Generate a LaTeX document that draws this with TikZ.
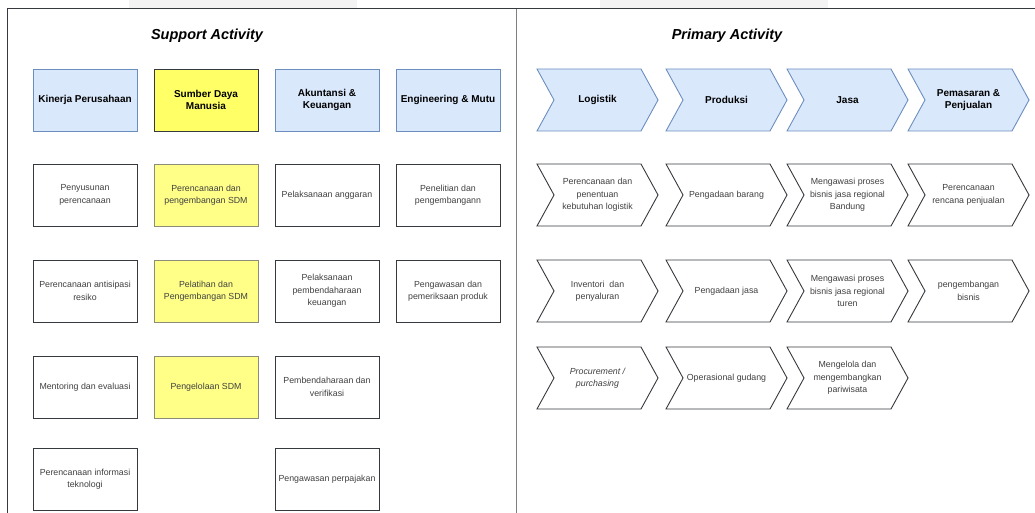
\documentclass[tikz,border=0pt]{standalone}
\usepackage{fontspec}
\setmainfont{Liberation Sans}
\usepackage{tikz}
\usetikzlibrary{positioning, backgrounds}
\definecolor{hdrblue}{HTML}{DAE8FC}
\definecolor{hdrline}{HTML}{6C8EBF}
\definecolor{sdmyellow}{HTML}{FFFF66}
\definecolor{itemyellow}{HTML}{FFFF88}
\definecolor{boxline}{HTML}{36393D}
\definecolor{yelline}{RGB}{140,140,120}
\definecolor{itemtext}{HTML}{404040}
\definecolor{tabgray}{HTML}{F3F3F3}
\tikzstyle{hdr} = [rectangle, minimum width=104pt, minimum height=62pt, inner sep=0pt, outer sep=0pt,
                   align=center, draw=hdrline, fill=hdrblue, line width=0.9pt,
                   font=\fontsize{10}{12.3}\selectfont\bfseries]
\tikzstyle{item} = [rectangle, minimum width=104pt, minimum height=62pt, inner sep=0pt, outer sep=0pt,
                    align=center, draw=boxline, fill=white, line width=0.9pt, text=itemtext,
                    font=\fontsize{8.8}{12.5}\selectfont]
\tikzstyle{sdmitem} = [item, fill=itemyellow, draw=yelline]
\tikzstyle{chevhdr} = [rectangle, minimum width=121pt, minimum height=62pt, inner sep=0pt, outer sep=0pt,
                       align=center, font=\fontsize{10}{12.3}\selectfont\bfseries]
\tikzstyle{chevitem} = [chevhdr, text=itemtext, font=\fontsize{8.8}{12.5}\selectfont]
\tikzstyle{chevblue} = [draw=hdrline, fill=hdrblue, line width=0.9pt]
\tikzstyle{chevwhite} = [draw=boxline, fill=white, line width=0.9pt]
\tikzstyle{title} = [font=\fontsize{14.5}{16}\selectfont\bfseries\itshape]

\begin{document}
\begin{tikzpicture}[x=1pt, y=1pt]
    \useasboundingbox (0,0) rectangle (1035,513);
    % Frame
    \fill[tabgray] (129,505) rectangle (357,513);
    \fill[tabgray] (600,505) rectangle (828,513);
    \draw[boxline, line width=1pt] (7.5,0) -- (7.5,504) -- (1035,504);
    \draw[gray, line width=1pt] (516,0) -- (516,504);

    % Titles
    \node[title] (support) at (207,477) {Support Activity};
    \node[title] (primary) at (727,477) {Primary Activity};

    % Support headers
    \node[hdr] (kinerja) at (85,413) {Kinerja Perusahaan};
    \node[hdr, right=17pt of kinerja, fill=sdmyellow, draw=boxline] (sdm) {Sumber Daya\\Manusia};
    \node[hdr, right=17pt of sdm] (akuntansi) {Akuntansi \&\\Keuangan};
    \node[hdr, right=17pt of akuntansi] (engineering) {Engineering \& Mutu};

    % Kinerja Perusahaan
    \node[item, below=33pt of kinerja] (kin1) {Penyusunan\\perencanaan};
    \node[item, below=34pt of kin1] (kin2) {Perencanaan antisipasi\\resiko};
    \node[item, below=34pt of kin2] (kin3) {Mentoring dan evaluasi};
    \node[item, below=30pt of kin3] (kin4) {Perencanaan informasi\\teknologi};

    % Sumber Daya Manusia
    \node[sdmitem, below=33pt of sdm] (sdm1) {Perencanaan dan\\pengembangan SDM};
    \node[sdmitem, below=34pt of sdm1] (sdm2) {Pelatihan dan\\Pengembangan SDM};
    \node[sdmitem, below=34pt of sdm2] (sdm3) {Pengelolaan SDM};

    % Akuntansi & Keuangan
    \node[item, below=33pt of akuntansi] (aku1) {Pelaksanaan anggaran};
    \node[item, below=34pt of aku1] (aku2) {Pelaksanaan\\pembendaharaan\\keuangan};
    \node[item, below=34pt of aku2] (aku3) {Pembendaharaan dan\\verifikasi};
    \node[item, below=30pt of aku3] (aku4) {Pengawasan perpajakan};

    % Engineering & Mutu
    \node[item, below=33pt of engineering] (eng1) {Penelitian dan\\pengembangann};
    \node[item, below=34pt of eng1] (eng2) {Pengawasan dan\\pemeriksaan produk};

    % Primary headers
    \node[chevhdr] (logistik) at (597.5,413) {Logistik};
    \node[chevhdr, right=8pt of logistik] (produksi) {Produksi};
    \node[chevhdr, right=0pt of produksi] (jasa) {Jasa};
    \node[chevhdr, right=0pt of jasa] (pemasaran) {Pemasaran \&\\Penjualan};

    % Primary activities
    \node[chevitem, below=33pt of logistik] (log1) {Perencanaan dan\\penentuan\\kebutuhan logistik};
    \node[chevitem, below=34pt of log1] (log2) {Inventori~ dan\\penyaluran};
    \node[chevitem, below=25pt of log2] (log3) {\itshape Procurement /\\\itshape purchasing};
    \node[chevitem, below=33pt of produksi] (pro1) {Pengadaan barang};
    \node[chevitem, below=34pt of pro1] (pro2) {Pengadaan jasa};
    \node[chevitem, below=25pt of pro2] (pro3) {Operasional gudang};
    \node[chevitem, below=33pt of jasa] (jas1) {Mengawasi proses\\bisnis jasa regional\\Bandung};
    \node[chevitem, below=34pt of jas1] (jas2) {Mengawasi proses\\bisnis jasa regional\\turen};
    \node[chevitem, below=25pt of jas2] (jas3) {Mengelola dan\\mengembangkan\\pariwisata};
    \node[chevitem, below=33pt of pemasaran] (pem1) {Perencanaan\\rencana penjualan};
    \node[chevitem, below=34pt of pem1] (pem2) {pengembangan\\bisnis};

    % Chevron outlines
    \begin{scope}[on background layer]
        \foreach \n in {logistik, produksi, jasa, pemasaran}
            \draw[chevblue] (\n.north west) -- ([xshift=-17pt]\n.north east) -- (\n.east)
                -- ([xshift=-17pt]\n.south east) -- (\n.south west) -- ([xshift=17pt]\n.west) -- cycle;
        \foreach \n in {log1, log2, log3, pro1, pro2, pro3, jas1, jas2, jas3, pem1, pem2}
            \draw[chevwhite] (\n.north west) -- ([xshift=-17pt]\n.north east) -- (\n.east)
                -- ([xshift=-17pt]\n.south east) -- (\n.south west) -- ([xshift=17pt]\n.west) -- cycle;
    \end{scope}
\end{tikzpicture}
\end{document}
